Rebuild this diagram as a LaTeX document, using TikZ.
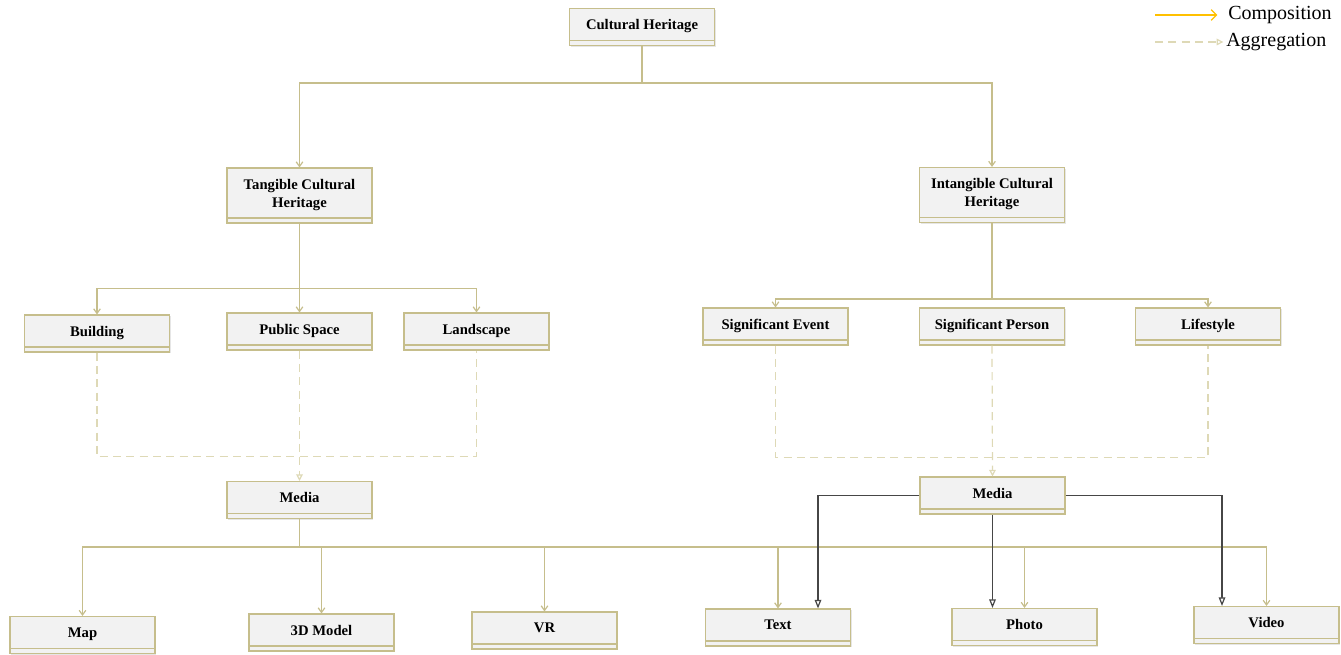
\documentclass[tikz,border=0pt]{standalone}
\usepackage{fontspec}
\setmainfont{Liberation Serif}
\usetikzlibrary{calc, arrows.meta, shadows}
\definecolor{boxline}{RGB}{198,190,140}
\definecolor{boxfill}{RGB}{242,242,242}
\definecolor{aggcolor}{RGB}{222,217,182}
\definecolor{legcomp}{RGB}{255,192,0}
\definecolor{medline}{RGB}{70,70,70}

\begin{document}
\begin{tikzpicture}[x=0.75pt, y=-0.75pt,
    box/.style={draw=boxline, fill=boxfill, line width=0.8pt, minimum width=108.75pt, minimum height=27.75pt,
      text depth=3.8pt, inner sep=1pt, align=center, font=\bfseries\fontsize{11}{13.5}\selectfont,
      drop shadow={shadow xshift=0.8pt, shadow yshift=-0.8pt, opacity=0.2},
      path picture={\draw[boxline, line width=0.8pt] ([yshift=3.75pt]path picture bounding box.south west) -- ([yshift=3.75pt]path picture bounding box.south east);}},
    tall/.style={minimum height=41.25pt},
    link/.style={draw=boxline, line width=0.9pt},
    comp/.style={link, -{Straight Barb[length=3.5pt, width=5pt]}},
    aggline/.style={draw=aggcolor, line width=0.9pt, dash pattern=on 6pt off 4pt},
    aggr/.style={aggline, -{Triangle[open, fill=white, length=5pt, width=5pt]}},
    real/.style={draw=medline, line width=0.9pt, -{Triangle[open, fill=white, length=6.5pt, width=5pt]}},
    legend/.style={inner sep=0pt, anchor=west, font=\fontsize{15}{17}\selectfont}]
      \useasboundingbox (0,0) rectangle (1341,655);
      \node[box] (ch) at (642,27) {Cultural Heritage};
      \node[box, tall] (tch) at (299.5,195.5) {Tangible Cultural\\Heritage};
      \node[box, tall] (ich) at (992,195) {Intangible Cultural\\Heritage};
      \node[box] (bld) at (97,333.5) {Building};
      \node[box] (pub) at (299.5,331.5) {Public Space};
      \node[box] (lnd) at (476.5,331.5) {Landscape};
      \node[box] (sev) at (775.5,326.5) {Significant Event};
      \node[box] (spe) at (992,326.5) {Significant Person};
      \node[box] (lfs) at (1208,326.5) {Lifestyle};
      \node[box] (medL) at (299.5,500) {Media};
      \node[box] (medR) at (992.5,495.5) {Media};
      \node[box] (map) at (82.5,635) {Map};
      \node[box] (mdl) at (321.5,632.5) {3D Model};
      \node[box] (vr) at (544.5,630.5) {VR};
      \node[box] (txt) at (778,627.5) {Text};
      \node[box] (pho) at (1024.5,627) {Photo};
      \node[box] (vid) at (1266.5,625) {Video};
      \draw[link] (ch.south) -- ++(0,37) coordinate (j1);
      \draw[comp] (j1) -| (tch.north);
      \draw[comp] (j1) -| (ich.north);
      \draw[link] (tch.south) -- ++(0,65) coordinate (j2);
      \foreach \n in {bld, pub, lnd}
        \draw[comp] (j2) -| (\n.north);
      \draw[link] (ich.south) -- ++(0,76) coordinate (j3);
      \draw[comp] (j3) -| (sev.north);
      \draw[comp] (j3) -| (lfs.north);
      \draw[aggline] (bld.south) -- ++(0,104) -| (lnd.south);
      \draw[aggr] (pub.south) -- (medL.north);
      \draw[aggline] (sev.south) -- ++(0,112) -| (lfs.south);
      \draw[aggr] (spe.south) -- (medR.north);
      \draw[link] (medL.south) -- ++(0,28) coordinate (j4);
      \foreach \n in {map, mdl, vr, txt, pho, vid}
        \draw[comp] (j4) -| (\n.north);
      \draw[real] (medR.west) -| ($(txt.north)+(40,0)$);
      \draw[real] (medR.south) -- (medR.south |- pho.north);
      \draw[real] (medR.east) -| ($(vid.north)+(-44.5,0)$);
      \coordinate (lc) at (1155,15);
      \coordinate (la) at (1155,42);
      \node[legend] (legC) at (1228,15) {Composition};
      \node[legend] (legA) at (1226,42) {Aggregation};
      \draw[draw=legcomp, line width=0.9pt, -{Straight Barb[length=4pt, width=8pt]}] (lc) -- ([xshift=-8pt]legC.west);
      \draw[aggr] (la) -- ([xshift=-2pt]legA.west);
    \end{tikzpicture}
\end{document}
